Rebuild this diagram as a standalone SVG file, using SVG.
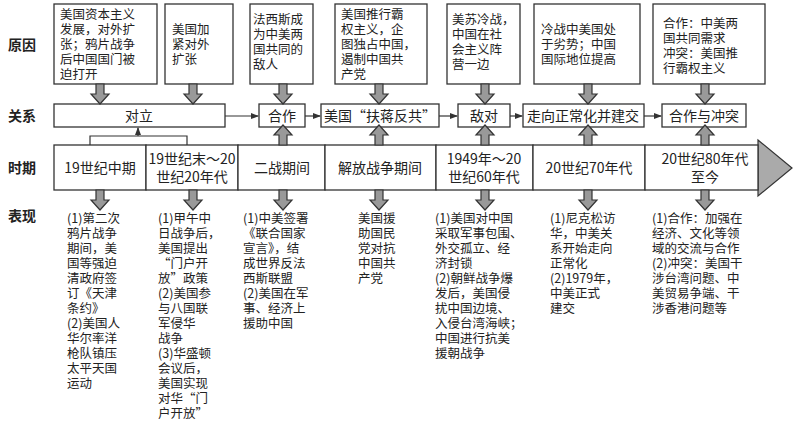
<svg xmlns="http://www.w3.org/2000/svg" width="794" height="432" viewBox="0 0 794 432">
<style>
.b{fill:#fff;stroke:#333;stroke-width:1.3}
.t{font-family:"Noto Sans CJK SC","Liberation Sans",sans-serif;font-size:14px;fill:#222}
.s{font-size:12.5px}
.c{text-anchor:middle}
.lab{font-family:"Noto Sans CJK SC",sans-serif;font-size:14px;font-weight:bold;fill:#222}
.ln{fill:none;stroke:#333;stroke-width:1.2}
</style>
<defs>
<path id="da" d="M-4,0H4V10H9L0,20L-9,10H-4Z" fill="#999" stroke="#333" stroke-width="1.2"/>
<marker id="ah" markerWidth="8" markerHeight="8" refX="7" refY="4" orient="auto" markerUnits="userSpaceOnUse"><path d="M0,1L8,4L0,7Z" fill="#333"/></marker>
</defs>
<g id="labels">
<text class="lab" x="8" y="50">原因</text>
<text class="lab" x="8" y="121">关系</text>
<text class="lab" x="8" y="173">时期</text>
<text class="lab" x="8" y="221">表现</text>
</g>
<g id="causes" class="t s">
<g id="c1"><rect class="b" x="54" y="4" width="103" height="80"/><text x="60" y="19"><tspan x="60">美国资本主义</tspan><tspan x="60" dy="15">发展，对外扩</tspan><tspan x="60" dy="15">张；鸦片战争</tspan><tspan x="60" dy="15">后中国国门被</tspan><tspan x="60" dy="15">迫打开</tspan></text></g>
<g id="c2"><rect class="b" x="165" y="4" width="68" height="80"/><text x="172" y="34"><tspan x="172">美国加</tspan><tspan x="172" dy="15">紧对外</tspan><tspan x="172" dy="15">扩张</tspan></text></g>
<g id="c3"><rect class="b" x="250" y="4" width="63" height="80"/><text x="253" y="24"><tspan x="253">法西斯成</tspan><tspan x="253" dy="15">为中美两</tspan><tspan x="253" dy="15">国共同的</tspan><tspan x="253" dy="15">敌人</tspan></text></g>
<g id="c4"><rect class="b" x="335" y="4" width="92" height="80"/><text x="341" y="19"><tspan x="341">美国推行霸</tspan><tspan x="341" dy="15">权主义，企</tspan><tspan x="341" dy="15">图独占中国，</tspan><tspan x="341" dy="15">遏制中国共</tspan><tspan x="341" dy="15">产党</tspan></text></g>
<g id="c5"><rect class="b" x="447" y="4" width="73" height="80"/><text x="452" y="24"><tspan x="452">美苏冷战，</tspan><tspan x="452" dy="15">中国在社</tspan><tspan x="452" dy="15">会主义阵</tspan><tspan x="452" dy="15">营一边</tspan></text></g>
<g id="c6"><rect class="b" x="534" y="4" width="106" height="80"/><text x="541" y="34"><tspan x="541">冷战中美国处</tspan><tspan x="541" dy="15">于劣势；中国</tspan><tspan x="541" dy="15">国际地位提高</tspan></text></g>
<g id="c7"><rect class="b" x="653" y="4" width="112" height="80"/><text x="663" y="28"><tspan x="663">合作：中美两</tspan><tspan x="663" dy="15">国共同需求</tspan><tspan x="663" dy="15">冲突：美国推</tspan><tspan x="663" dy="15">行霸权主义</tspan></text></g>
</g>
<g id="relations" class="t c">
<g id="r1"><rect class="b" x="54" y="104" width="171" height="23"/><text x="139" y="121">对立</text></g>
<g id="r2"><rect class="b" x="259" y="104" width="46" height="23"/><text x="282" y="121">合作</text></g>
<g id="r3"><rect class="b" x="321" y="104" width="118" height="23"/><text x="380" y="121">美国“扶蒋反共”</text></g>
<g id="r4"><rect class="b" x="458" y="104" width="52" height="23"/><text x="484" y="121">敌对</text></g>
<g id="r5"><rect class="b" x="523" y="104" width="121" height="23"/><text x="583" y="121">走向正常化并建交</text></g>
<g id="r6"><rect class="b" x="662" y="104" width="84" height="23"/><text x="704" y="121">合作与冲突</text></g>
</g>
<g id="timeline" class="t c">
<path d="M758,140L792,168L758,196Z" fill="#aaa" stroke="#333" stroke-width="1.2"/>
<g id="p1"><rect class="b" x="54" y="145" width="92" height="45"/><text x="100" y="173">19世纪中期</text></g>
<g id="p2"><rect class="b" x="146" y="145" width="92" height="45"/><text x="192" y="164">19世纪末～20</text><text x="192" y="182">世纪20年代</text></g>
<g id="p3"><rect class="b" x="238" y="145" width="87" height="45"/><text x="282" y="173">二战期间</text></g>
<g id="p4"><rect class="b" x="325" y="145" width="111" height="45"/><text x="380" y="173">解放战争期间</text></g>
<g id="p5"><rect class="b" x="436" y="145" width="97" height="45"/><text x="484" y="164">1949年～20</text><text x="484" y="182">世纪60年代</text></g>
<g id="p6"><rect class="b" x="533" y="145" width="112" height="45"/><text x="589" y="173">20世纪70年代</text></g>
<g id="p7"><rect class="b" x="645" y="145" width="113" height="45"/><text x="705" y="164">20世纪80年代</text><text x="705" y="182">至今</text></g>
</g>
<g id="connectors">
<path class="ln" d="M90,145V136H187V145M138,136V128" marker-end="url(#ah)"/>
<path class="ln" d="M225,116H258" marker-end="url(#ah)"/>
<path class="ln" d="M305,116H320" marker-end="url(#ah)"/>
<path class="ln" d="M439,116H457" marker-end="url(#ah)"/>
<path class="ln" d="M510,116H522" marker-end="url(#ah)"/>
<path class="ln" d="M644,116H661" marker-end="url(#ah)"/>
<use href="#da" x="100" y="84"/><use href="#da" x="193" y="84"/><use href="#da" x="283" y="84"/><use href="#da" x="379" y="84"/><use href="#da" x="485" y="84"/><use href="#da" x="588" y="84"/><use href="#da" x="705" y="84"/>
<use href="#da" transform="translate(283,145) rotate(180)"/><use href="#da" transform="translate(379,145) rotate(180)"/><use href="#da" transform="translate(485,145) rotate(180)"/><use href="#da" transform="translate(588,145) rotate(180)"/><use href="#da" transform="translate(705,145) rotate(180)"/>
<use href="#da" x="100" y="190"/><use href="#da" x="193" y="190"/><use href="#da" x="283" y="190"/><use href="#da" x="379" y="190"/><use href="#da" x="485" y="190"/><use href="#da" x="588" y="190"/><use href="#da" x="705" y="190"/>
</g>
<g id="details" class="t s">
<text x="67" y="223"><tspan x="67">(1)第二次</tspan><tspan x="67" dy="15">鸦片战争</tspan><tspan x="67" dy="15">期间，美</tspan><tspan x="67" dy="15">国等强迫</tspan><tspan x="67" dy="15">清政府签</tspan><tspan x="67" dy="15">订《天津</tspan><tspan x="67" dy="15">条约》</tspan><tspan x="67" dy="15">(2)美国人</tspan><tspan x="67" dy="15">华尔率洋</tspan><tspan x="67" dy="15">枪队镇压</tspan><tspan x="67" dy="15">太平天国</tspan><tspan x="67" dy="15">运动</tspan></text>
<text x="158" y="223"><tspan x="158">(1)甲午中</tspan><tspan x="158" dy="15">日战争后，</tspan><tspan x="158" dy="15">美国提出</tspan><tspan x="158" dy="15">“门户开</tspan><tspan x="158" dy="15">放”政策</tspan><tspan x="158" dy="15">(2)美国参</tspan><tspan x="158" dy="15">与八国联</tspan><tspan x="158" dy="15">军侵华</tspan><tspan x="158" dy="15">战争</tspan><tspan x="158" dy="15">(3)华盛顿</tspan><tspan x="158" dy="15">会议后，</tspan><tspan x="158" dy="15">美国实现</tspan><tspan x="158" dy="15">对华“门</tspan><tspan x="158" dy="15">户开放”</tspan></text>
<text x="243" y="223"><tspan x="243">(1)中美签署</tspan><tspan x="243" dy="15">《联合国家</tspan><tspan x="243" dy="15">宣言》，结</tspan><tspan x="243" dy="15">成世界反法</tspan><tspan x="243" dy="15">西斯联盟</tspan><tspan x="243" dy="15">(2)美国在军</tspan><tspan x="243" dy="15">事、经济上</tspan><tspan x="243" dy="15">援助中国</tspan></text>
<text x="358" y="223"><tspan x="358">美国援</tspan><tspan x="358" dy="15">助国民</tspan><tspan x="358" dy="15">党对抗</tspan><tspan x="358" dy="15">中国共</tspan><tspan x="358" dy="15">产党</tspan></text>
<text x="435" y="223"><tspan x="435">(1)美国对中国</tspan><tspan x="435" dy="15">采取军事包围、</tspan><tspan x="435" dy="15">外交孤立、经</tspan><tspan x="435" dy="15">济封锁</tspan><tspan x="435" dy="15">(2)朝鲜战争爆</tspan><tspan x="435" dy="15">发后，美国侵</tspan><tspan x="435" dy="15">扰中国边境、</tspan><tspan x="435" dy="15">入侵台湾海峡；</tspan><tspan x="435" dy="15">中国进行抗美</tspan><tspan x="435" dy="15">援朝战争</tspan></text>
<text x="550" y="223"><tspan x="550">(1)尼克松访</tspan><tspan x="550" dy="15">华，中美关</tspan><tspan x="550" dy="15">系开始走向</tspan><tspan x="550" dy="15">正常化</tspan><tspan x="550" dy="15">(2)1979年，</tspan><tspan x="550" dy="15">中美正式</tspan><tspan x="550" dy="15">建交</tspan></text>
<text x="652" y="223"><tspan x="652">(1)合作：加强在</tspan><tspan x="652" dy="15">经济、文化等领</tspan><tspan x="652" dy="15">域的交流与合作</tspan><tspan x="652" dy="15">(2)冲突：美国干</tspan><tspan x="652" dy="15">涉台湾问题、中</tspan><tspan x="652" dy="15">美贸易争端、干</tspan><tspan x="652" dy="15">涉香港问题等</tspan></text>
</g>
</svg>
